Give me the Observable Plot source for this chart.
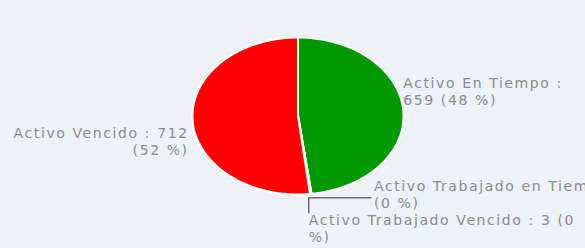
<!DOCTYPE html>
<html><head><meta charset="utf-8">
<script src="https://cdn.jsdelivr.net/npm/d3@7"></script>
<script src="https://cdn.jsdelivr.net/npm/@observablehq/plot@0.6"></script>
<style>
html,body{margin:0;padding:0;background:#eef1f5;overflow:hidden}
#chart svg{background:#eef1f5}
</style></head><body><div id="chart"></div>
<script>
const categories = ["Activo En Tiempo", "Activo Trabajado en Tiempo", "Activo Trabajado Vencido", "Activo Vencido"];
const values = [659, 0, 3, 712];
const percents = [48, 0, 0, 52];
const colors = ["#009900", "#ffcc00", "#3366ff", "#ff0000"];
const labels = [
  "Activo En Tiempo :\n659 (48 %)",
  "Activo Trabajado en Tiempo : 0\n(0 %)",
  "Activo Trabajado Vencido : 3 (0\n%)",
  "Activo Vencido : 712\n(52 %)"
];

const rows = categories.map((c, i) => ({category: c, value: values[i], pct: percents[i], label: labels[i]}));
const arcs = d3.pie().sort(null).value(d => d.value)(rows);

// slice outlines (unit circle, y up), computed from the pie angles
const outline = arcs.flatMap(a => {
  const n = Math.max(2, Math.ceil((a.endAngle - a.startAngle) / (Math.PI / 180)) + 1);
  const pts = [{category: a.data.category, x: 0, y: 0}];
  for (let k = 0; k < n; k++) {
    const t = a.startAngle + (a.endAngle - a.startAngle) * k / (n - 1);
    pts.push({category: a.data.category, x: Math.sin(t), y: Math.cos(t)});
  }
  pts.push({category: a.data.category, x: 0, y: 0});
  return pts;
});

const mid = a => (a.startAngle + a.endAngle) / 2;
const onEdge = (a, r) => ({x: r * Math.sin(mid(a)), y: r * Math.cos(mid(a))});

// leader for the two tiny slices
const corner = onEdge(arcs[2], 1.05);
corner.x *= 0.8;
const hEnd = {x: corner.x + 0.59, y: corner.y};
const vEnd = {x: corner.x, y: corner.y - 0.19};
const leader = [hEnd, corner, vEnd];

const g = onEdge(arcs[0], 1), r = onEdge(arcs[3], 1);
const textFont = {fontFamily: "DejaVu Sans", fontSize: 14, lineHeight: 1.22, fill: "#8c8c8c"};

const plot = Plot.plot({
  width: 585, height: 248,
  marginLeft: 192, marginRight: 182, marginTop: 37, marginBottom: 54,
  x: {domain: [-1, 1], axis: null},
  y: {domain: [-1, 1], axis: null},
  color: {domain: categories, range: colors},
  style: {background: "#eef1f5", letterSpacing: "1.6px", overflow: "hidden"},
  marks: [
    Plot.line(outline, {x: "x", y: "y", z: "category", fill: "category", stroke: "white", strokeWidth: 2, strokeLinejoin: "round"}),
    Plot.line(leader, {x: "x", y: "y", stroke: "#6e6e6e", strokeWidth: 1.5}),
    Plot.text([rows[0]], {x: () => g.x, y: () => g.y, text: "label", textAnchor: "start", dx: 0, dy: -20, ...textFont}),
    Plot.text([rows[3]], {x: () => r.x, y: () => r.y, text: "label", textAnchor: "end", dx: -4, dy: 21, ...textFont}),
    Plot.text([rows[1]], {x: () => hEnd.x, y: () => hEnd.y, text: "label", textAnchor: "start", dx: 3, dy: -4, ...textFont}),
    Plot.text([rows[2]], {x: () => vEnd.x, y: () => vEnd.y, text: "label", textAnchor: "start", dx: 0, dy: 15, ...textFont})
  ]
});
document.getElementById("chart").append(plot);
</script></body></html>
